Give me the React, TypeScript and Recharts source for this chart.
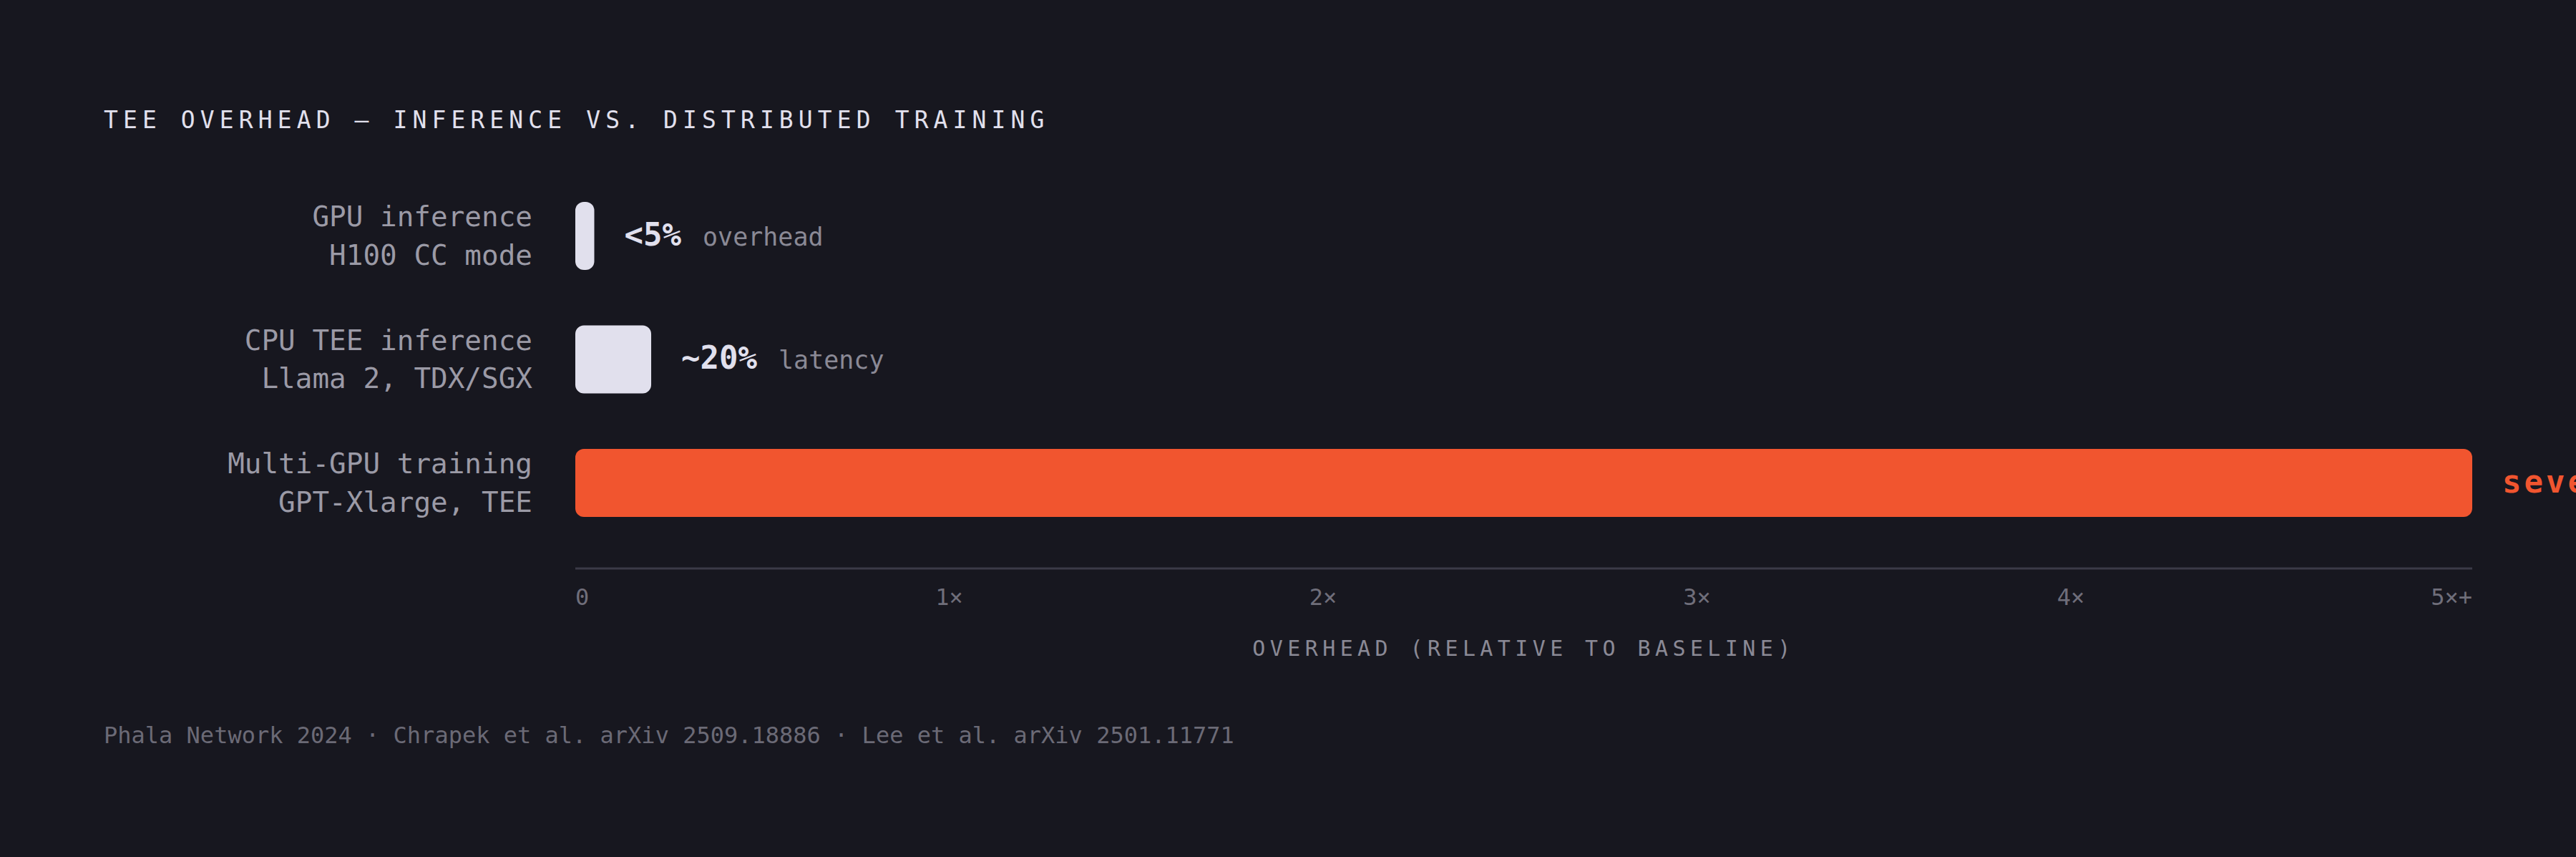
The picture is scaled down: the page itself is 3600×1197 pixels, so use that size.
import React from 'react';
import { BarChart, Bar, XAxis, YAxis, Cell, LabelList } from 'recharts';

// ---- data ----
const labelLine1 = ['GPU inference', 'CPU TEE inference', 'Multi-GPU training'];
const labelLine2 = ['H100 CC mode', 'Llama 2, TDX/SGX', 'GPT-Xlarge, TEE'];
const overhead = [0.05, 0.2, 5];
const valueLabels = ['<5%', '~20%', 'severe'];
const valueNotes = ['overhead', 'latency', ''];
const tickValues = [0, 1, 2, 3, 4, 5];
const tickLabels = ['0', '1×', '2×', '3×', '4×', '5×+'];
const titleText = 'TEE OVERHEAD — INFERENCE VS. DISTRIBUTED TRAINING';
const axisTitle = 'OVERHEAD (RELATIVE TO BASELINE)';
const footerText = 'Phala Network 2024 · Chrapek et al. arXiv 2509.18886 · Lee et al. arXiv 2501.11771';

// ---- styles ----
const W = 3600;
const H = 1197;
const BG = '#17171f';
const LIGHT = '#e1e0ed';
const ORANGE = '#f1552f';
const LABEL_GREY = '#9b9aa6';
const NOTE_GREY = '#8a8995';
const TICK_GREY = '#6f6e7a';
const FOOT_GREY = '#6b6a76';
const AXIS_LINE = '#3b3a47';
const MONO = '"DejaVu Sans Mono", "Liberation Mono", monospace';
const barColors = [LIGHT, LIGHT, ORANGE];

const PLOT_LEFT = 804;
const PLOT_RIGHT = 3455;
const PLOT_TOP = 243;
const AXIS_Y = 794;
const XAXIS_H = 140;
const TICK_FS = 32;

const data = labelLine1.map((l, i) => ({ name: l, value: overhead[i] }));

const YTick = (props: any) => {
  const { x, y, index } = props;
  return (
    <g>
      <text x={x} y={y - 13} textAnchor="end" fill={LABEL_GREY} fontFamily={MONO} fontSize={39.3}>
        {labelLine1[index]}
      </text>
      <text x={x} y={y + 40.5} textAnchor="end" fill={LABEL_GREY} fontFamily={MONO} fontSize={39.3}>
        {labelLine2[index]}
      </text>
    </g>
  );
};

const XTick = (props: any) => {
  const { index } = props;
  const charW = TICK_FS * 0.602;
  const widths = tickLabels.map((t) => t.length * charW);
  const total = widths.reduce((a, b) => a + b, 0);
  const gap = (PLOT_RIGHT - PLOT_LEFT - total) / (tickLabels.length - 1);
  let start = PLOT_LEFT + index * gap;
  for (let k = 0; k < index; k++) start += widths[k];
  return (
    <text x={start} y={AXIS_Y + 51} textAnchor="start" fill={TICK_GREY} fontFamily={MONO} fontSize={TICK_FS}>
      {tickLabels[index]}
    </text>
  );
};

const ValueLabel = (props: any) => {
  const { x, y, width, height, index } = props;
  const tx = x + width + 42;
  const ty = y + height / 2 + 13;
  const isSevere = index === 2;
  return (
    <text x={tx} y={ty} fontFamily={MONO}>
      <tspan
        fontWeight={700}
        fontSize={44}
        fill={isSevere ? ORANGE : LIGHT}
        letterSpacing={isSevere ? 4 : 0}
      >
        {valueLabels[index]}
      </tspan>
      {valueNotes[index] ? (
        <tspan dx={30} fontSize={35} fill={NOTE_GREY}>
          {valueNotes[index]}
        </tspan>
      ) : null}
    </text>
  );
};

const AxisTitle = (props: any) => {
  const vb = props.viewBox || {};
  const cx = (vb.x ?? PLOT_LEFT) + (vb.width ?? PLOT_RIGHT - PLOT_LEFT) / 2;
  return (
    <text
      x={cx}
      y={916}
      textAnchor="middle"
      fill={NOTE_GREY}
      fontFamily={MONO}
      fontSize={30}
      letterSpacing={6.4}
    >
      {axisTitle}
    </text>
  );
};

export default function App() {
  return (
    <div
      style={{
        position: 'absolute',
        left: 0,
        top: 0,
        width: W,
        height: H,
        background: BG,
        overflow: 'hidden',
      }}
    >
      <svg
        width={W}
        height={H}
        style={{ position: 'absolute', left: 0, top: 0, pointerEvents: 'none' }}
      >
        <text x={145} y={179} fill={LIGHT} fontFamily={MONO} fontSize={33} letterSpacing={7.1}>
          {titleText}
        </text>
        <text x={145} y={1038} fill={FOOT_GREY} fontFamily={MONO} fontSize={32}>
          {footerText}
        </text>
      </svg>
      <div style={{ position: 'absolute', left: 0, top: 0 }}>
        <BarChart
          width={W}
          height={H}
          data={data}
          layout="vertical"
          margin={{ top: PLOT_TOP, right: W - PLOT_RIGHT, bottom: H - AXIS_Y - XAXIS_H, left: 0 }}
          barCategoryGap={0}
        >
          <XAxis
            type="number"
            dataKey="value"
            domain={[0, 5]}
            ticks={tickValues}
            allowDataOverflow
            height={XAXIS_H}
            axisLine={{ stroke: AXIS_LINE, strokeWidth: 3 }}
            tickLine={false}
            tickSize={0}
            tickMargin={0}
            tick={<XTick />}
            interval={0}
            label={<AxisTitle />}
          />
          <YAxis
            type="category"
            dataKey="name"
            width={PLOT_LEFT}
            axisLine={false}
            tickLine={false}
            tickSize={0}
            tickMargin={60}
            tick={<YTick />}
            interval={0}
            padding={{ top: 0, bottom: 33.5 }}
          />
          <Bar dataKey="value" barSize={95} radius={12} isAnimationActive={false}>
            {data.map((d, i) => (
              <Cell key={d.name} fill={barColors[i]} />
            ))}
            <LabelList dataKey="value" content={<ValueLabel />} />
          </Bar>
        </BarChart>
      </div>
    </div>
  );
}
